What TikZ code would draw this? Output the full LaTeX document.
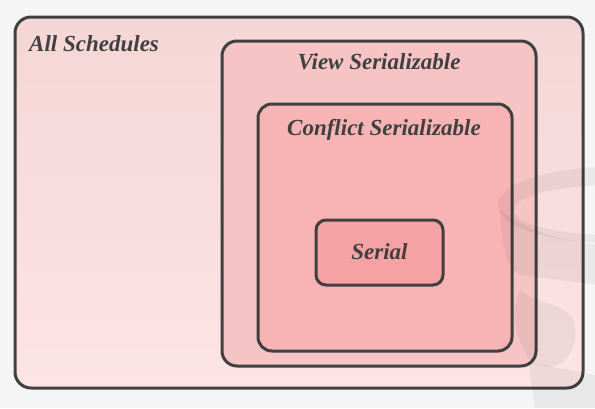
\documentclass[tikz,border=0pt]{standalone}
\usepackage{fontspec}
\setmainfont{Liberation Serif}
\begin{document}
\begin{tikzpicture}[x=1pt,y=-1pt,
  setbox/.style={draw=black!75, line width=3pt, rounded corners=#1, inner sep=0pt},
  setlabel/.style={font=\bfseries\itshape\fontsize{23}{26}\selectfont, text=black!75, inner sep=0pt},
  mark watermark/.style={fill=black, opacity=0.05}
]
\fill[black!4] (0,0) rectangle (595,408);
\useasboundingbox (0,0) rectangle (595,408);
\node[setbox=16pt, top color={rgb,255:red,245;green,214;blue,215}, bottom color={rgb,255:red,253;green,228;blue,229},
  minimum width=568pt, minimum height=371pt] (all) at (299,202.5) {};
\node[setbox=15pt, fill={rgb,255:red,246;green,196;blue,197},
  minimum width=314pt, minimum height=325pt] (view) at (379,203.5) {};
\node[setbox=14pt, fill={rgb,255:red,248;green,180;blue,181},
  minimum width=254pt, minimum height=247pt] (conf) at (385,227.5) {};
\node[setbox=10pt, fill={rgb,255:red,246;green,161;blue,163},
  minimum width=127pt, minimum height=65pt] (ser) at (379.5,252.5) {};
\node[setlabel, anchor=west] (lall) at (29,44) {All Schedules};
\node[setlabel] (lview) at (379,62) {View Serializable};
\node[setlabel] (lconf) at (384,130) {Conflict Serializable};
\node[setlabel] (lser) at (379.5,252) {Serial};
% faint watermark
\begin{scope}
\clip (480,150) rectangle (595,408);
\fill[mark watermark, even odd rule] (610,205) ellipse (112 and 38) (612,210) ellipse (98 and 25);
\fill[mark watermark] (500,210) .. controls (502,250) and (505,265) .. (520,275) -- (600,285) -- (600,245) .. controls (560,240) and (530,232) .. (500,210) -- cycle;
\fill[mark watermark] (520,290) .. controls (545,310) and (580,300) .. (575,340) .. controls (570,370) and (540,372) .. (530,360) .. controls (515,340) and (510,310) .. (520,290) -- cycle;
\fill[mark watermark] (528,362) -- (595,375) -- (595,408) -- (535,408) -- cycle;
\end{scope}
\end{tikzpicture}
\end{document}
